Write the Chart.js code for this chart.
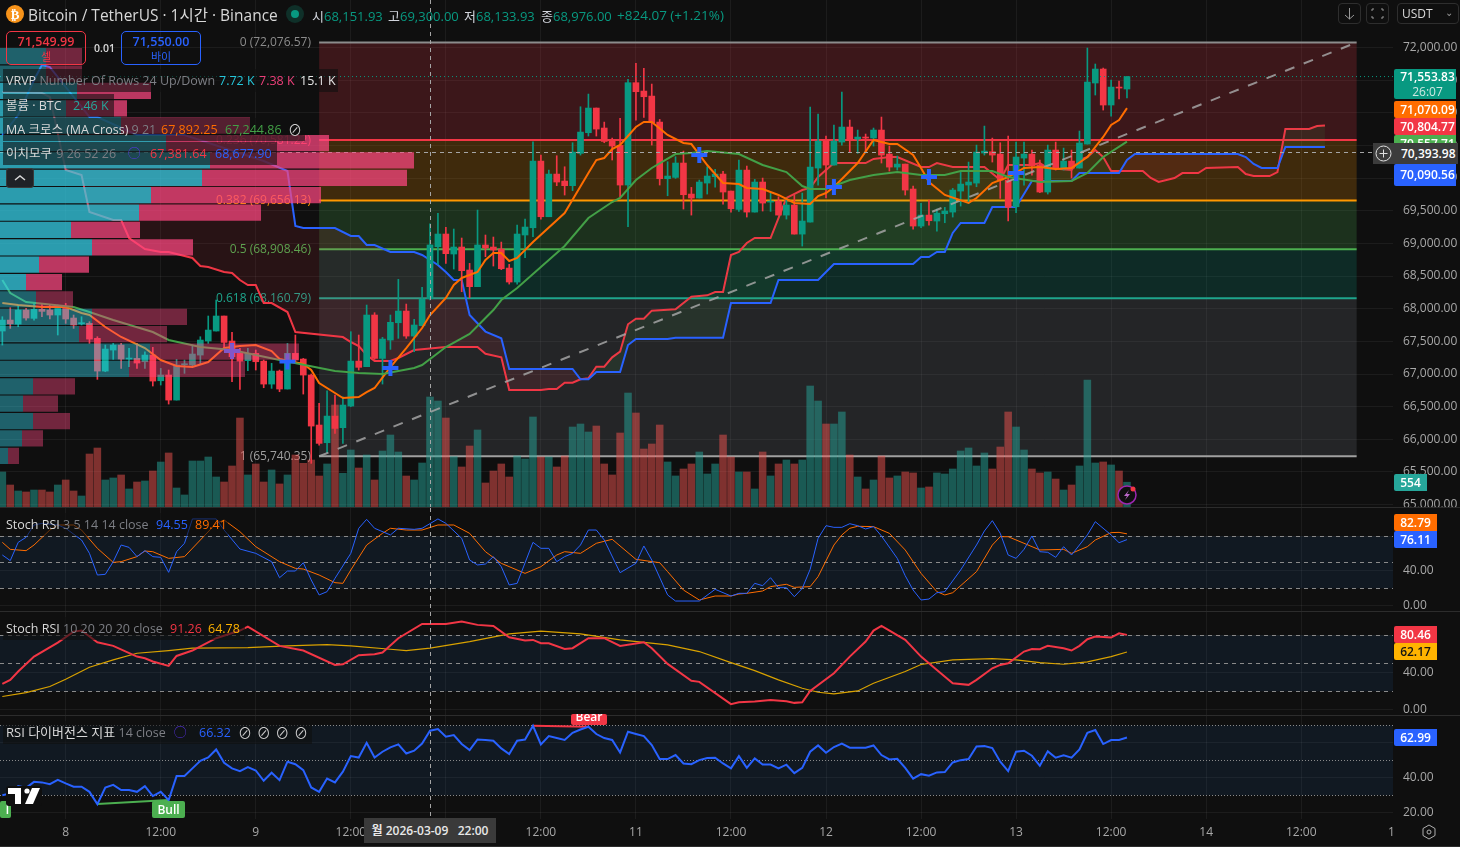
<!DOCTYPE html>
<html lang="ko">
<head>
<meta charset="utf-8">
<title>BTCUSDT 1시간</title>
<script src="https://cdn.jsdelivr.net/npm/chart.js@4"></script>
<style>
    html, body { margin: 0; padding: 0; background: #0f0f0f; overflow: hidden; }
    body { width: 1460px; height: 847px; position: relative; color: #d1d4dc; font: 13px "Open Sans", "Noto Sans CJK KR", sans-serif; }
    canvas { position: absolute; left: 0; display: block; }
    .abs { position: absolute; white-space: nowrap; }
    .sep { position: absolute; left: 0; width: 1460px; height: 1px; background: #2c2c2c; }
    .legend { position: absolute; left: 3px; height: 23px; line-height: 23px; padding-left: 3px; background: rgba(15,15,15,.6); white-space: nowrap; box-sizing: border-box; font-size: 12.5px; }
    .legend .g { color: #7d7f85; }
    .legend .at { position: absolute; top: 0; }
    .tag { position: absolute; left: 1394px; text-align: center; color: #fff; font-size: 12px; font-weight: 600; line-height: 17px; height: 17px; width: 62px; padding-left: 5px; box-sizing: border-box; overflow: hidden; border-radius: 2px 0 0 2px; }
    .tag.sm { width: 43px; height: 17px; padding-left: 0; }
    .teal { color: #089981; }
    .order { position: absolute; top: 31px; width: 80px; height: 34px; border-radius: 5px; box-sizing: border-box; text-align: center; font-size: 12.5px; font-weight: 600; line-height: 15px; padding-top: 2px; }
    .order small { display: block; font-size: 11px; font-weight: 400; }
    .btn { position: absolute; top: 3px; height: 21px; border: 1px solid #2e2e2e; border-radius: 4px; box-sizing: border-box; }
    .badge { position: absolute; color: #fff; font-size: 12px; font-weight: 600; text-align: center; border-radius: 2px; overflow: hidden; }
</style>
</head>
<body>

<canvas id="priceChart" width="1460" height="507" style="top:0"></canvas>
<canvas id="vrvpChart" width="1393" height="507" style="top:0"></canvas>
<canvas id="stochFastChart" width="1460" height="103" style="top:508px"></canvas>
<canvas id="stochSlowChart" width="1460" height="103" style="top:612px"></canvas>
<canvas id="rsiChart" width="1460" height="131" style="top:716px"></canvas>

<div class="sep" style="top:507px"></div>
<div class="sep" style="top:611px"></div>
<div class="sep" style="top:715px"></div>
<div class="sep" style="top:846px"></div>

<!-- header -->
<svg class="abs" style="left:5px;top:4px" width="20" height="20"><circle cx="10" cy="10" r="9" fill="#f7931a"/><text x="10" y="14.5" font-size="13" font-weight="700" text-anchor="middle" fill="#fff" font-family="DejaVu Sans">₿</text></svg>
<div class="abs" style="left:28px;top:3px;font-size:15.5px;color:#d8d8d8">Bitcoin / TetherUS · 1시간 · Binance</div>
<svg class="abs" style="left:285px;top:4px" width="20" height="20"><circle cx="10" cy="10" r="9" fill="#0f3029"/><circle cx="10" cy="10" r="4" fill="#089981"/></svg>
<div class="abs" style="left:312px;top:6px">시<span class="teal">68,151.93</span></div>
<div class="abs" style="left:388px;top:6px">고<span class="teal">69,300.00</span></div>
<div class="abs" style="left:464px;top:6px">저<span class="teal">68,133.93</span></div>
<div class="abs" style="left:541px;top:6px">종<span class="teal">68,976.00</span></div>
<div class="abs teal" style="left:617px;top:6px;font-size:13.5px">+824.07 (+1.21%)</div>

<div class="btn" style="left:1338px;width:23px"><svg width="21" height="19"><path d="M10.5 4v11M6 11l4.5 4 4.5-4" stroke="#999" fill="none"/></svg></div>
<div class="btn" style="left:1366px;width:23px"><svg width="21" height="19"><path d="M5 7V5h2M14 5h2v2M16 12v2h-2M7 14H5v-2" stroke="#999" fill="none"/></svg></div>
<div class="btn" style="left:1397px;width:62px;color:#d8d8d8;font-size:12px;line-height:19px;padding-left:4px">USDT<span style="position:absolute;right:5px;top:-1px;font-size:10px;color:#999">⌄</span></div>

<div class="order" style="left:6px;border:1px solid #f23645;color:#f23645">71,549.99<small>셀</small></div>
<div class="abs" style="left:94px;top:41px;font-size:10.5px;font-weight:600;color:#d8d8d8">0.01</div>
<div class="order" style="left:121px;border:1px solid #2962ff;color:#2962ff">71,550.00<small>바이</small></div>

<!-- legends -->
<div class="legend" style="top:69px;width:335px"><span style="color:#d8d8d8">VRVP</span> <span class="g">Number Of Rows 24 Up/Down</span><span class="at" style="left:216px;color:#26c6da">7.72 K</span><span class="at" style="left:256px;color:#ec407a">7.38 K</span><span class="at" style="left:297px;color:#e6e6e6">15.1 K</span></div>
<div class="legend" style="top:94px;width:111px"><span style="color:#d8d8d8">볼륨 · BTC</span><span class="at" style="left:70px;color:#26a69a">2.46 K</span></div>
<div class="legend" style="top:118px;width:302px"><span style="color:#d8d8d8">MA 크로스 (MA Cross)</span> <span class="g">9 21</span><span class="at" style="left:158px;color:#ff6d00">67,892.25</span><span class="at" style="left:222px;color:#43a047">67,244.86</span><span class="at" style="left:285px;color:#ccc;font-size:14px">⊘</span></div>
<div class="legend" style="top:142px;width:274px"><span style="color:#d8d8d8">이치모쿠</span> <span class="g" style="margin-left:1px">9 26 52 26</span><span class="at" style="left:125px;color:#5e35f5">◯</span><span class="at" style="left:147px;color:#f23645">67,381.64</span><span class="at" style="left:212px;color:#2962ff">68,677.90</span></div>
<div class="abs" style="left:6px;top:168px;width:28px;height:20px;background:#1f2226;border:1px solid #3a3a3a;border-radius:3px;box-sizing:border-box"><svg width="26" height="18"><path d="M8 11l5-4 5 4" stroke="#d8d8d8" stroke-width="1.5" fill="none"/></svg></div>

<div class="legend" style="top:513px;width:225px"><span style="color:#d8d8d8">Stoch RSI</span> <span class="g">3 5 14 14 close</span><span class="at" style="left:153px;color:#2962ff">94.55</span><span class="at" style="left:192px;color:#ff6d00">89.41</span></div>
<div class="legend" style="top:617px;width:242px"><span style="color:#d8d8d8">Stoch RSI</span> <span class="g">10 20 20 20 close</span><span class="at" style="left:167px;color:#f23645">91.26</span><span class="at" style="left:205px;color:#ffb300">64.78</span></div>
<div class="legend" style="top:721px;width:309px"><span style="color:#d8d8d8;font-size:13px">RSI 다이버전스 지표</span> <span class="g">14 close</span><span class="at" style="left:171px;color:#5e35f5">◯</span><span class="at" style="left:196px;color:#2962ff">66.32</span><span class="at" style="left:235px;color:#ccc;font-size:14px;word-spacing:1px">⊘ ⊘ ⊘ ⊘</span></div>

<!-- price scale tags -->
<div class="tag" style="top:69px;height:30px;background:#089981;line-height:15px">71,553.83<br><span style="font-weight:400;color:#cfe8e2">26:07</span></div>
<div class="tag" style="top:135px;background:#4caf50;height:10px">70,557.71</div>
<div class="tag" style="top:101px;background:#ff6d00">71,070.09</div>
<div class="tag" style="top:118px;background:#f23645">70,804.77</div>
<div class="abs" style="left:1394px;top:143px;width:64px;height:21px;background:#3c3c3c;color:#fff;font-size:12px;font-weight:600;line-height:21px;padding-left:7px;box-sizing:border-box">70,393.98</div>
<div class="abs" style="left:1373px;top:143px;width:21px;height:21px;background:#3c3c3c"><svg width="21" height="21"><circle cx="10.5" cy="10.5" r="7.5" stroke="#e0e0e0" fill="none"/><path d="M10.5 6.5v8M6.5 10.5h8" stroke="#e0e0e0"/></svg></div>
<div class="tag" style="top:164px;height:22px;line-height:22px;background:#2962ff">70,090.56</div>
<div class="tag sm" style="top:474px;width:33px;background:#26a69a">554</div>
<div class="tag sm" style="top:514px;background:#ff6d00">82.79</div>
<div class="tag sm" style="top:531px;background:#2962ff">76.11</div>
<div class="tag sm" style="top:626px;background:#f23645">80.46</div>
<div class="tag sm" style="top:643px;background:#ffb300;color:#131313">62.17</div>
<div class="tag sm" style="top:729px;background:#2962ff">62.99</div>

<!-- divergence badges, logo, misc -->
<div class="badge" style="left:571px;top:714px;width:36px;height:11px;background:#f23645;line-height:6px">Bear</div>
<div class="badge" style="left:152px;top:801px;width:33px;height:17px;background:#4caf50;line-height:17px">Bull</div>
<div class="badge" style="left:0;top:801px;width:11px;height:17px;background:#4caf50;line-height:17px;text-align:right;padding-right:2px;box-sizing:border-box">l</div>
<svg class="abs" style="left:6px;top:786px" width="36" height="20"><rect width="36" height="20" rx="3" fill="#0f0f0f"/><path d="M2 2h13v16H9V8H2z M19 18L26 2h8l-7 16z" fill="#fff"/><circle cx="21" cy="5" r="2.6" fill="#fff"/></svg>
<svg class="abs" style="left:1116px;top:483px" width="24" height="24"><circle cx="11" cy="12" r="9" stroke="#9c27b0" stroke-width="1.5" fill="#0f0f0f"/><path d="M13 7l-5 6h3l-2 4 5-6h-3z" fill="#ba68c8"/><circle cx="17" cy="6" r="2.5" fill="#f23645"/></svg>
<div class="abs" style="left:364px;top:818px;width:132px;height:25px;background:#3a3a3a;color:#e8e8e8;font-size:12px;font-weight:600;line-height:25px;text-align:center">월 2026-03-09 &nbsp; 22:00</div>
<svg class="abs" style="left:1420px;top:823px" width="18" height="18"><path d="M9 2l6 3.5v7L9 16l-6-3.5v-7z" stroke="#b0b0b0" fill="none"/><circle cx="9" cy="9" r="2" stroke="#b0b0b0" fill="none"/></svg>

<script>
// Candles, one per hour. Hours are counted from 2026-03-08 00:00
const firstHour = -8;
const opens = [67658,67826,67765,67979,67852,67990,67979,67903,68005,67857,67770,67775,67546,67045,67367,67443,67229,67239,67188,67290,66897,66984,66601,67142,67137,67290,67505,67658,67888,67505,67316,67204,67316,67198,66846,67045,66770,67316,67229,66984,66219,65948,66356,66178,66509,67198,67112,67903,67239,67520,67785,67964,67581,67740,68151.93,
    68949,69143,68837,68944,68592,68337,68975,68944,68913,68622,68408,69128,69239,70260,69408,70061,69954,69883,70378,70694,71072,70766,70566,70500,69893,71460,71332,71255,70857,69990,70010,70230,69755,69694,69923,70020,70061,69801,69520,70122,69479,69939,69632,69648,69433,69587,69142,69326,70153,70566,70199,70551,70781,70597,70628,70612,70735,70367,70168,70214,69832,
    69265,69433,69342,69454,69479,69801,69893,69923,70383,70403,70367,69969,69561,70306,70367,70199,69786,70429,70138,70260,70153,70520,71455,71669,71118,71393,71363];
const highs = [67877,68015,68056,68005,68081,68081,68056,68056,68081,67903,67877,67801,67571,67443,67469,67469,67392,67469,67341,67408,67086,67061,67224,67214,67443,67571,67888,68133,67888,67637,67392,67392,67367,67214,67163,67061,67469,67597,67239,67000,66550,66744,66678,66652,67648,67597,68056,67939,67561,67903,68449,68071,67837,68326,69300,
    69459,69245,69220,69082,68694,69510,69128,69097,69020,68679,69281,69373,70556,70352,70122,70342,70173,70541,71092,71286,71072,70857,70612,70914,71511,71756,71679,71439,70898,70250,70327,70413,69857,69969,70173,70133,70102,69801,70276,70184,69980,70000,69770,69714,69694,69735,69770,71087,70980,70643,70811,71317,70888,70735,70674,70766,70934,70490,70337,70214,69877,
    69612,69663,69525,69551,69842,70107,70245,70505,70796,70612,70541,70643,70551,70551,70429,70276,70505,70551,70459,70429,70720,71991,71746,71684,71501,71485,71553.83];
const lows = [67443,67699,67724,67826,67826,67877,67842,67597,67775,67699,67750,67469,66918,67035,67224,67086,67112,67086,67086,66816,66831,66540,66601,67010,67112,67153,67469,67658,67408,66882,66765,67051,67061,66790,66780,66729,66770,67163,66693,65632,65912,65795,66091,65938,66499,67061,67112,67224,66846,67377,67546,67546,67341,67740,68133.93,
    68679,68694,68607,68260,68168,68337,68796,68653,68597,68377,68377,68781,69102,69372,69408,69883,69740,69806,70352,70643,70643,70541,70276,69714,69255,70888,70929,70505,69893,69729,69995,69525,69433,69694,69755,69862,69602,69479,69490,69403,69479,69495,69490,69433,69372,69142,68959,69326,69893,69694,70199,70505,70398,70378,70398,70490,70230,70107,70122,69740,69219,
    69239,69280,69188,69316,69403,69571,69612,69867,70352,70245,69689,69342,69469,69893,70046,69775,69755,70122,70122,70000,70153,70520,71271,71041,70949,71210,71225];
const closes = [67826,67770,67979,67857,67990,67959,67903,68005,67842,67750,67780,67535,67045,67382,67443,67229,67239,67168,67290,66892,66984,66601,67137,67147,67306,67520,67673,67888,67484,67265,67198,67316,67188,66846,67045,66770,67316,67214,66984,66203,65938,66356,66167,66525,67198,67102,67903,67239,67535,67791,67964,67581,67750,68148,68976,
    69143,68842,68944,68582,68337,68975,68929,68898,68612,68408,69143,69250,70260,69408,70061,69939,69883,70398,70704,71072,70750,70561,70490,69893,71460,71322,71245,70847,69990,70031,70230,69745,69694,69939,70031,70061,69786,69530,70122,69479,69939,69617,69648,69433,69587,69142,69342,70168,70566,70199,70566,70781,70597,70628,70612,70735,70352,70168,70214,69816,69265,
    69433,69347,69464,69495,69816,69908,69939,70398,70413,70352,69969,69551,70322,70367,70184,69786,70429,70153,70260,70153,70536,71470,71669,71118,71393,71378,71553.83];
const volumes = [783,492,358,336,380,380,336,492,604,358,246,1185,1319,604,649,716,403,559,582,805,1006,1208,425,269,1029,1029,1118,671,559,917,1990,716,962,559,828,515,716,1163,977,1051,693,962,2281,753,1275,872,1163,604,1252,1610,1230,693,604,984,2460,2370,1990,1126,895,1364,1722,537,805,962,671,1141,1074,2013,1118,1118,895,1141,1789,1856,1677,1811,962,716,1655,2549,2102,1297,1409,1834,1007,694,850,962,1230,738,962,1610,1118,783,783,403,1230,694,962,1051,962,1051,2706,2370,1856,1856,2125,1163,671,403,604,1141,649,694,783,761,425,448,761,738,850,1253,1320,917,1208,850,1342,2125,1789,1275,850,761,783,626,380,492,917,2840,984,1007,940,805,554];

// MA cross
const maFastHours = [-8,-6,-3,0,2,3,5,7,10,12,14,16,18,20,22,24,26,27,30,31,32,34,35,37,38,39,41,43,45,46,48,49,50,52,53,54,55,56,57,59,63,66,67,68,69,70,72,73,74,76,78,79,81,83,85,86,88,90,92,94,95,96,97,100,102,104,105,107,108,109,111,114,115,117,119,121,123,125,127,129,131,132,133,134];
const maFastValues = [68087,68056,68026,68026,67934,67903,67720,67567,67398,67214,67122,67107,67184,67398,67429,67444,67352,67230,67153,67061,66862,66709,66633,66648,66724,66786,67107,67398,67704,67903,68164,68363,68470,68562,68745,68853,68853,68730,68776,69021,69465,70077,70276,70307,70445,70506,70782,70858,70858,70659,70537,70521,70200,69924,69909,69848,69832,69741,69618,69603,69725,69771,69863,70230,70583,70521,70521,70353,70154,69940,69741,69618,69695,69924,70016,70154,70169,70139,70154,70322,70629,70812,70889,71070.09];
const maSlowHours = [-8,-7,-5,1,3,6,11,13,17,21,27,34,37,40,44,45,48,51,54,55,57,60,63,66,69,70,72,74,77,79,81,85,88,91,93,94,96,99,102,105,108,111,113,117,119,123,127,129,131,134];
const maSlowValues = [68439,68240,68102,68026,67949,67827,67643,67521,67413,67368,67214,67046,67015,67000,67092,67138,67413,67613,67980,68133,68317,68638,68960,69388,69633,69695,69970,70154,70368,70383,70414,70368,70200,70092,69878,69832,69832,69970,70047,70092,70047,70047,70108,70108,70016,69940,69955,70077,70322,70557.71];
const crossHours = [21,28,41,80,97,109,120];
const crossPrices = [67352,67190,67092,70353,69863,70016,70077];

// Ichimoku
const spanBlueHours = [-8,-6,-4,-3,-2,0,2,3,4,9,15,25,28,29,30,34,36,37,38,39,41,44,45,47,48,49,50,51,53,55,56,64,65,66,67,70,71,72,76,77,83,84,89,90,95,97,107,108,109,110,111,112,113,116,117,120,122,127,128,133,134,135,148,149,150,151,153,154,159];
const spanBlueValues = [70659,70965,71501,71731,71700,71394,71088,70935,70935,70659,70659,70261,70108,69266,69235,69235,69113,69113,68975,68975,68868,68868,68822,68669,68562,68439,68439,67903,67650,67546,67077,67077,66919,66919,67031,67031,67444,67536,67536,67556,67556,68087,68087,68439,68439,68684,68684,68791,68791,68868,68868,69159,69312,69312,69557,69557,69955,69955,70077,70077,70276,70368,70368,70322,70215,70154,70154,70476,70476];
const spanRedHours = [-8,-3,-2,0,2,3,6,7,8,10,12,13,16,17,18,20,21,22,23,24,25,26,28,29,35,36,37,38,39,41,42,44,48,52,53,55,56,60,61,62,63,64,65,66,67,68,69,70,71,72,73,74,77,79,81,82,83,84,85,86,87,89,90,91,93,94,95,97,101,102,104,105,108,109,110,112,116,118,119,122,123,124,127,128,129,130,131,132,136,137,138,140,141,143,144,148,149,150,152,153,154,157,158,159];
const spanRedValues = [71317,71302,71241,70123,70047,69480,69358,69358,69082,68914,68868,68868,68776,68653,68638,68562,68546,68439,68363,68363,68087,68087,67949,67643,67566,67490,67429,67291,67199,67199,67245,67367,67413,67413,67310,67255,66755,66755,66770,66770,66867,66867,66919,66934,67112,67112,67255,67342,67761,67847,67847,67970,67990,68183,68205,68256,68256,68822,68868,69006,69082,69082,69388,69695,69817,69848,70016,70230,70230,70292,70322,70322,70169,70169,70230,70169,70169,69970,70200,70200,70230,70154,70123,70276,70322,70429,70322,70108,70108,70001,69940,70001,70077,70077,70154,70169,70062,70031,70031,70092,70751,70751,70797,70804.77];

// Fib retracement
const fibRatios = ['0','0.236','0.382','0.5','0.618','1'];
const fibPrices = [72076.57,70581.22,69656.13,68908.46,68160.79,65740.35];
const fibColors = ['#8c8c8c','#f23645','#ff9800','#4caf50','#1ea58c','#a0a0a0'];
const fibFills = ['rgba(242,54,69,.2)','rgba(255,152,0,.2)','rgba(76,175,80,.22)','rgba(8,153,129,.2)','rgba(120,123,134,.2)'];
const fibStartHour = 32;
const fibEndHour = 163;

// Volume profile rows, top to bottom (sizes relative to the row width)
const vrvpUp = [46,46,77,66,121,166,210,202,151,139,71,92,39,26,36,92,79,150,129,33,23,33,22,8];
const vrvpDown = [36,36,74,61,129,163,204,205,170,122,69,101,50,36,37,95,88,149,116,42,35,37,21,11];
const vrvpAreaRows = [2,13];

// Stoch RSI 3 5 14 14
const stochKHours = [-8,-7,-6,-5,-4,-3,-1,0,2,3,4,5,6,7,8,9,10,11,12,13,14,15,16,19,20,22,24,26,27,28,29,30,31,32,33,34,36,37,38,39,41,42,44,45,47,48,50,51,52,53,54,55,56,57,59,60,61,62,63,64,65,66,67,68,70,72,73,74,76,77,80,82,84,85,86,87,88,89,90,91,92,93,94,95,96,97,98,99,100,101,102,103,105,106,107,108,109,110,111,113,115,116,117,118,119,120,121,122,123,124,125,126,127,129,130,132,133,134];
const stochKValues = [58.4,51.9,73,78.8,93,94.9,93,89.2,75.7,60.3,35.3,36.1,50.7,69.9,67.2,56.5,63.4,56.5,55.7,38.4,62.2,71.9,100,100,87.2,65.3,60.3,50.7,32.2,39.9,39.9,49.5,29.6,12.3,16.1,31.5,60.3,89.2,99.5,89.2,81.5,89.2,88,89.2,100,94.9,77.6,52.6,46.9,48,56.5,44.9,23.8,25.7,73,66.1,66.1,50.7,56.5,60.3,69.9,87.2,87.2,75.7,38,48.8,68.8,52.6,12.3,5.3,5.3,18.8,11.1,14.2,14.2,25.7,23,32.2,20.7,20.7,10.3,19.9,41.9,77.6,92.2,90.3,90.3,94.5,92.2,88.4,91.1,80.3,54.5,34.5,18,6.5,7.6,14.9,16.1,41.1,69.9,86.1,98,83.4,58.4,54.5,64.9,80.3,62.2,61.5,55.7,68,58.4,81.5,96.8,81.5,72.6,76.11];
const stochDHours = [-8,-7,-5,-4,-2,-1,1,2,4,6,7,9,10,11,13,15,17,19,20,22,24,27,29,30,32,34,35,36,38,40,41,43,45,47,49,51,53,55,58,60,62,63,65,67,69,72,75,76,78,80,82,84,85,86,88,89,91,92,94,95,97,98,99,100,102,104,106,108,110,111,112,115,117,118,119,121,123,126,127,129,130,132,133,134];
const stochDValues = [73,64.9,63.4,69.9,87.2,93,93,87.2,66.1,49.9,50.7,56.5,63,62.2,54.5,56.5,75.7,94.9,98.8,85.3,68,50.7,43,42.2,35.3,26.5,25.7,41.1,69.9,83.4,89.2,87.2,87.2,93,93,83.4,62.2,48.8,37.2,44.9,58.4,62.2,60.3,71.9,76.5,53.4,49.5,39.2,18,6.5,11.1,11.1,13.4,14.2,16.9,21.9,24.6,21.1,21.9,33.4,69.9,81.5,89.2,91.5,91.1,83.4,64.2,37.2,16.1,12.3,14.9,39.2,69.9,79.5,79.5,71.9,64.2,64.9,60.3,68,75.7,84.2,84.5,82.79];

// Stoch RSI 10 20 20 20
const stochSlowKHours = [-8,-7,-6,-4,-1,1,2,4,6,9,10,11,13,14,16,19,22,23,27,30,34,35,37,39,40,42,45,48,50,52,54,56,58,59,60,61,63,64,66,68,70,73,74,76,79,80,84,85,87,89,91,92,93,94,97,99,101,102,103,106,108,110,112,114,115,117,118,119,121,122,123,124,126,127,128,129,130,132,133,134];
const stochSlowKValues = [27.9,32.2,41.2,57.2,72.2,84,85.1,72.6,68.7,57.2,55.4,51.9,47.2,57.9,63.7,76.9,85.1,89.4,68.7,63.7,48.3,49,58.7,59.7,61.5,76.9,92.2,92.2,94.7,91.2,90.1,77.9,74.4,75.1,71.5,71.5,65.4,66.2,76.9,76.9,68.7,72.6,66.2,49.4,31.2,30.1,6.2,8.3,9,10.8,9.4,7.6,8.3,20.4,39.4,57.2,73.3,85.1,90.1,75.1,57.2,42.9,28.7,26.9,32.2,44.7,48.3,50.1,62.6,65.4,65.1,68.7,66.2,63.7,68.7,75.8,78.7,77.6,82.2,80.46];
const stochSlowDHours = [-8,-5,-2,0,3,6,9,13,16,23,28,33,36,41,43,46,51,56,60,65,70,76,80,84,87,90,93,95,97,100,102,106,108,112,117,120,123,126,129,132,134];
const stochSlowDValues = [14.4,18.6,25.1,33,45.8,53.7,60.8,63.7,66.2,66.9,68.7,70.1,68.7,65.1,63.7,66.2,73.3,81.5,84.4,81.5,75.1,69.7,62.6,50.8,42.2,32.2,23.3,19,17.2,20.4,28.7,41.2,48.7,53.7,55.1,53.7,50.8,49,51.5,57.2,62.17];

// RSI, one value per hour from firstHour
const rsiValues = [30.1,31.1,35.3,34.3,37.7,37.4,36.4,38.9,36.8,34.9,34.9,32,25,34.5,36,33,33,32,35.3,29.6,32,27.3,41,41,45.4,49.7,51.6,56.2,48.6,45.4,43.8,46.1,44.2,38.3,42.9,38.7,49.2,47.8,44.4,34.5,32,39.6,37.4,43.5,52.4,51.6,60,51.6,54.9,57.4,59.1,53.9,55.5,59.6,66.9,67.8,63.5,64.4,59.3,55.8,61.9,61.6,61.2,56.8,53.6,61.2,61.9,69.7,59.1,63.8,62.7,61.6,65.7,67.6,69.2,65,62.7,61.6,54.5,66.3,65,63.8,58.7,50.7,50.7,53,48.2,47.8,50.1,51.3,51.5,48.2,45.4,
    52.4,45.7,51.1,47.6,47.6,45.4,47.5,42.7,45.7,54.9,58.5,54.3,57.6,59.6,57.2,57.2,57.2,58.5,53,50.5,50.9,45.7,39.5,42.1,41.2,43.1,43.3,48.8,50.1,50.7,57.9,58.1,57,49.2,43.8,54.9,55.5,52.6,46.9,55.1,51.5,52.8,51.5,56.2,65.7,67.3,59.3,61.6,61.6,62.99];
const bullDivHours = [4,13];
const bullDivValues = [25,27.3];
const bearDivHours = [59,66];
const bearDivValues = [69.7,69.2];

// Axis ticks
const priceTicks = [65000,65500,66000,66500,67000,67500,68000,68500,69000,69500,70000,70500,71000,71500,72000];
const stochTicks = [0,40,80];
const rsiTicks = [20,40,60];

// Level lines and cursor
const stochLevels = [80,50,20];
const rsiLevels = [70,50,30];
const cursorHour = 46;
const cursorPrice = 70393.98;
const lastPrice = 71553.83;
const trendHours = [32,163];
const trendPrices = [65740.35,72076.57];

const xMin = -8.295;
const xMax = 167.59;
const gridColor = 'rgba(255,255,255,.055)';
const tickColor = '#a8a8a8';
const fontFamily = '"Open Sans", "Noto Sans CJK KR", sans-serif';
const upColor = '#089981';
const downColor = '#f23645';

function points(hours, values) {
    return hours.map((h, i) => ({ x: h, y: values[i] }));
}

function hourOf(i) {
    return firstHour + i;
}

function lineSet(data, color, width, extra) {
    return Object.assign({ type: 'line', data: data, borderColor: color, borderWidth: width, pointRadius: 0, fill: false, tension: 0 }, extra || {});
}

function timeAxis(showLabels) {
    return {
        type: 'linear',
        offset: false,
        min: xMin,
        max: xMax,
        afterBuildTicks: scale => { if (showLabels) scale.ticks.push({ value: 167.4 }); },
        afterFit: scale => {
            scale.height = showLabels ? 28 : 0;
            scale.paddingLeft = 0;
            scale.paddingRight = 0;
        },
        border: { display: false },
        grid: { offset: false, color: c => (c.tick && c.tick.value % 12 === 0 ? gridColor : 'transparent'), drawTicks: false },
        ticks: {
            display: showLabels,
            stepSize: 12,
            includeBounds: false,
            autoSkip: false,
            maxRotation: 0,
            padding: 6,
            color: tickColor,
            font: { family: fontFamily, size: 12 },
            callback: v => {
                if (v % 24 === 0) return String(8 + v / 24);
                if (v % 12 === 0) return '12:00';
                return '1';
            }
        }
    };
}

function valueAxis(min, max, tickValues) {
    return {
        position: 'right',
        min: min,
        max: max,
        afterBuildTicks: scale => { scale.ticks = tickValues.map(v => ({ value: v })); },
        afterFit: scale => {
            scale.width = 67;
            scale.paddingTop = 0;
            scale.paddingBottom = 0;
        },
        border: { display: false },
        grid: { color: gridColor, drawTicks: false },
        ticks: {
            padding: 10,
            color: tickColor,
            font: { family: fontFamily, size: 12 },
            callback: v => v.toLocaleString('en-US', { minimumFractionDigits: 2, maximumFractionDigits: 2 })
        }
    };
}

// Vertical cursor line, the same on every pane
const cursorPlugin = {
    id: 'cursor',
    afterDatasetsDraw(chart) {
        const ctx = chart.ctx;
        const a = chart.chartArea;
        const x = chart.scales.x.getPixelForValue(cursorHour);
        ctx.save();
        ctx.strokeStyle = '#a5a5a5';
        ctx.setLineDash([4, 4]);
        ctx.beginPath();
        ctx.moveTo(Math.round(x) + 0.5, a.top);
        ctx.lineTo(Math.round(x) + 0.5, a.bottom);
        ctx.stroke();
        ctx.restore();
    }
};

// Band and dashed levels of the oscillator panes
const levelsPlugin = {
    id: 'levels',
    beforeDatasetsDraw(chart, args, opts) {
        const ctx = chart.ctx;
        const a = chart.chartArea;
        const y = chart.scales.y;
        const top = y.getPixelForValue(opts.levels[0]);
        const bottom = y.getPixelForValue(opts.levels[2]);
        ctx.save();
        ctx.fillStyle = 'rgba(33,110,190,.11)';
        ctx.fillRect(a.left, top, a.right - a.left, bottom - top);
        ctx.strokeStyle = '#8a8a8a';
        ctx.setLineDash(opts.dash);
        opts.levels.forEach(level => {
            const py = Math.round(y.getPixelForValue(level)) + 0.5;
            ctx.beginPath();
            ctx.moveTo(a.left, py);
            ctx.lineTo(a.right, py);
            ctx.stroke();
        });
        ctx.restore();
    }
};

// Fib bands, lines and labels on the price pane
const fibPlugin = {
    id: 'fib',
    beforeDatasetsDraw(chart) {
        const ctx = chart.ctx;
        const sx = chart.scales.x;
        const sy = chart.scales.y;
        const left = sx.getPixelForValue(fibStartHour);
        const right = sx.getPixelForValue(fibEndHour);
        ctx.save();
        fibFills.forEach((c, i) => {
            const top = sy.getPixelForValue(fibPrices[i]);
            const bottom = sy.getPixelForValue(fibPrices[i + 1]);
            ctx.fillStyle = c;
            ctx.fillRect(left, top, right - left, bottom - top);
        });
        ctx.lineWidth = 2;
        ctx.textAlign = 'right';
        ctx.textBaseline = 'middle';
        ctx.font = '12px ' + fontFamily;
        fibPrices.forEach((p, i) => {
            const py = sy.getPixelForValue(p);
            ctx.strokeStyle = fibColors[i];
            ctx.beginPath();
            ctx.moveTo(left, py);
            ctx.lineTo(right, py);
            ctx.stroke();
            ctx.fillStyle = fibColors[i];
            ctx.fillText(fibRatios[i] + ' (' + p.toLocaleString('en-US', { minimumFractionDigits: 2 }) + ')', 311, py);
        });
        ctx.restore();
    },
    afterDatasetsDraw(chart) {
        const ctx = chart.ctx;
        const a = chart.chartArea;
        const py = Math.round(chart.scales.y.getPixelForValue(cursorPrice)) + 0.5;
        ctx.save();
        ctx.strokeStyle = '#a5a5a5';
        ctx.setLineDash([4, 4]);
        ctx.beginPath();
        ctx.moveTo(a.left, py);
        ctx.lineTo(a.right, py);
        ctx.stroke();
        ctx.restore();
    }
};

const baseOptions = {
    responsive: false,
    animation: false,
    events: [],
    layout: { padding: 0, autoPadding: false }
};

const candleColors = opens.map((o, i) => (closes[i] >= o ? upColor : downColor));
const volumeColors = opens.map((o, i) => (closes[i] >= o ? 'rgba(38,166,154,.5)' : 'rgba(239,83,80,.5)'));

// Price pane
new Chart(document.getElementById('priceChart'), {
    data: {
        datasets: [
            lineSet(points(spanBlueHours, spanBlueValues), '#2962ff', 2, {
                order: 6,
                fill: { target: 1, above: 'rgba(242,54,69,.11)', below: 'rgba(76,175,80,.11)' }
            }),
            lineSet(points(spanRedHours, spanRedValues), '#f23645', 2, { order: 6 }),
            {
                type: 'bar', order: 9, yAxisID: 'yVol', grouped: false, barThickness: 6.9,
                data: volumes.map((v, i) => ({ x: hourOf(i), y: v })),
                backgroundColor: volumeColors
            },
            {
                type: 'bar', order: 5, grouped: false, barThickness: 1,
                data: lows.map((l, i) => ({ x: hourOf(i), y: [l, highs[i]] })),
                backgroundColor: candleColors
            },
            {
                type: 'bar', order: 4, grouped: false, barThickness: 6, minBarLength: 1,
                data: opens.map((o, i) => ({ x: hourOf(i), y: [o, closes[i]] })),
                backgroundColor: candleColors
            },
            lineSet(points(trendHours, trendPrices), 'rgba(165,165,165,.85)', 2, { order: 3, borderDash: [10, 10] }),
            lineSet(points([xMin, xMax], [lastPrice, lastPrice]), '#089981', 1, { order: 3, borderDash: [1, 3] }),
            lineSet(points(maSlowHours, maSlowValues), '#43a047', 2, { order: 2 }),
            lineSet(points(maFastHours, maFastValues), '#ff6d00', 2, { order: 2 }),
            {
                type: 'scatter', order: 1,
                data: points(crossHours, crossPrices),
                pointStyle: 'cross', pointRadius: 8, pointBorderWidth: 4,
                pointBorderColor: '#2962ff', pointBackgroundColor: '#2962ff', showLine: false
            }
        ]
    },
    options: Object.assign({}, baseOptions, {
        scales: {
            x: timeAxis(false),
            y: valueAxis(64964, 72726, priceTicks),
            yVol: { display: false, min: 0, max: 11337 }
        },
        plugins: { legend: { display: false }, tooltip: { enabled: false } }
    }),
    plugins: [fibPlugin, cursorPlugin]
});

// Volume profile sits over the price pane, hence its own canvas
const rowLabels = vrvpUp.map((v, i) => i);
const inArea = i => i >= vrvpAreaRows[0] && i <= vrvpAreaRows[1];
new Chart(document.getElementById('vrvpChart'), {
    type: 'bar',
    data: {
        labels: rowLabels,
        datasets: [
            { data: vrvpUp, stack: 'a', barPercentage: 0.94, categoryPercentage: 1,
              backgroundColor: rowLabels.map(i => (inArea(i) ? 'rgba(54,211,236,.72)' : 'rgba(54,211,236,.42)')) },
            { data: vrvpDown, stack: 'a', barPercentage: 0.94, categoryPercentage: 1,
              backgroundColor: rowLabels.map(i => (inArea(i) ? 'rgba(253,71,129,.72)' : 'rgba(253,71,129,.42)')) }
        ]
    },
    options: Object.assign({}, baseOptions, {
        indexAxis: 'y',
        layout: { padding: { top: 47.5, bottom: 42.5 }, autoPadding: false },
        scales: {
            x: { display: false, min: 0, max: 1393, stacked: true },
            y: { display: false, stacked: true }
        },
        plugins: { legend: { display: false }, tooltip: { enabled: false } }
    })
});

// Oscillator panes
function makePane(id, datasets, yMin, yMax, tickValues, levels, dash, showLabels) {
    new Chart(document.getElementById(id), {
        type: 'line',
        data: { datasets: datasets },
        options: Object.assign({}, baseOptions, {
            scales: { x: timeAxis(showLabels), y: valueAxis(yMin, yMax, tickValues) },
            plugins: {
                legend: { display: false },
                tooltip: { enabled: false },
                levels: { levels: levels, dash: dash }
            }
        }),
        plugins: [levelsPlugin, cursorPlugin]
    });
}

makePane('stochFastChart', [
    lineSet(points(stochKHours, stochKValues), '#2962ff', 1),
    lineSet(points(stochDHours, stochDValues), '#ff6d00', 1)
], -6.2, 112.6, stochTicks, stochLevels, [4, 4], false);

makePane('stochSlowChart', [
    lineSet(points(stochSlowKHours, stochSlowKValues), '#f23645', 2),
    lineSet(points(stochSlowDHours, stochSlowDValues), '#d9a200', 1.2)
], -5.4, 105, stochTicks, stochLevels, [4, 4], false);

makePane('rsiChart', [
    lineSet(rsiValues.map((v, i) => ({ x: hourOf(i), y: v })), '#2962ff', 2),
    lineSet(points(bullDivHours, bullDivValues), '#4caf50', 2),
    lineSet(points(bearDivHours, bearDivValues), '#f23645', 2)
], 16.5, 75.3, rsiTicks, rsiLevels, [1, 2], true);
</script>
</body>
</html>
